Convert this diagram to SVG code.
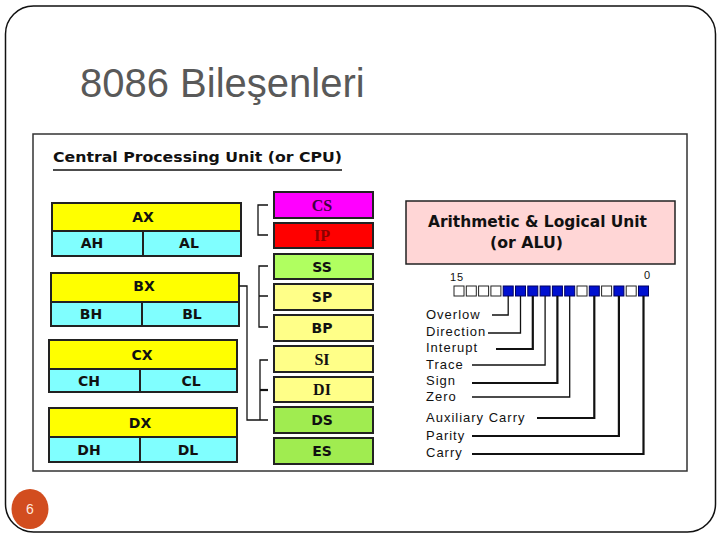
<svg xmlns="http://www.w3.org/2000/svg" width="720" height="540" viewBox="0 0 720 540">
<style>
.reg{font-family:"DejaVu Sans","Liberation Sans",sans-serif;font-weight:bold;font-size:14px;text-anchor:middle;fill:#111}
.seg{font-family:"DejaVu Sans","Liberation Sans",sans-serif;font-weight:bold;font-size:14px;text-anchor:middle;fill:#111}
.segs{font-family:"Liberation Serif",serif;font-weight:bold;font-size:16px;text-anchor:middle;fill:#111}
.y{fill:#FFFF00;stroke:#222;stroke-width:2}
.c{fill:#80FFFF;stroke:#222;stroke-width:2}
.box{stroke:#222;stroke-width:2}
.flag{font-family:"Liberation Sans",sans-serif;font-size:13px;letter-spacing:1px;fill:#111}
.ln{fill:none;stroke:#111;stroke-width:1.3}
.lnb{fill:none;stroke:#111;stroke-width:2.2}
.w{fill:#fff;stroke:#222;stroke-width:1}
.b{fill:#0010D0;stroke:#000060;stroke-width:1}
</style>
<rect x="5.5" y="6" width="710" height="526" rx="28" ry="28" fill="#fff" stroke="#111" stroke-width="1.5"/>
<text x="80" y="97" font-family="Liberation Sans,Arial,sans-serif" font-size="40" fill="#595959">8086 Bileşenleri</text>
<rect x="33" y="134" width="654" height="337" fill="#fff" stroke="#333" stroke-width="1.5"/>
<g id="cpu-title">
<text x="53" y="162" font-family="DejaVu Sans,sans-serif" font-weight="bold" font-size="14" fill="#111" textLength="289" lengthAdjust="spacingAndGlyphs">Central Processing Unit (or CPU)</text>
<line x1="53" y1="170" x2="342" y2="170" stroke="#111" stroke-width="1.3"/>
</g>
<g id="AX">
<rect class="y" x="52" y="203" width="189" height="28"/>
<rect class="c" x="52" y="231" width="91" height="25"/>
<rect class="c" x="143" y="231" width="98" height="25"/>
<text class="reg" x="143" y="222">AX</text>
<text class="reg" x="92" y="248">AH</text>
<text class="reg" x="189" y="248">AL</text>
</g>
<g id="BX">
<rect class="y" x="51" y="273" width="188" height="29"/>
<rect class="c" x="51" y="302" width="91" height="24"/>
<rect class="c" x="142" y="302" width="97" height="24"/>
<text class="reg" x="144" y="291">BX</text>
<text class="reg" x="91" y="319">BH</text>
<text class="reg" x="192" y="319">BL</text>
</g>
<g id="CX">
<rect class="y" x="49" y="340" width="188" height="29"/>
<rect class="c" x="49" y="369" width="91" height="23"/>
<rect class="c" x="140" y="369" width="97" height="23"/>
<text class="reg" x="142" y="360">CX</text>
<text class="reg" x="89" y="386">CH</text>
<text class="reg" x="191" y="386">CL</text>
</g>
<g id="DX">
<rect class="y" x="49" y="408" width="188" height="29"/>
<rect class="c" x="49" y="437" width="91" height="25"/>
<rect class="c" x="140" y="437" width="97" height="25"/>
<text class="reg" x="140" y="428">DX</text>
<text class="reg" x="89" y="455">DH</text>
<text class="reg" x="188" y="455">DL</text>
</g>
<g id="CS"><rect class="box" x="274" y="192" width="99" height="26" fill="#FF00FF"/><text class="segs" x="322" y="211" fill="#400040" style="fill:#400040">CS</text></g>
<g id="IP"><rect class="box" x="274" y="223" width="99" height="25" fill="#FF0000"/><text class="segs" x="322" y="241" style="fill:#8B0000">IP</text></g>
<g id="SS"><rect class="box" x="274" y="254" width="99" height="25" fill="#B0FF60"/><text class="seg" x="322" y="272">SS</text></g>
<g id="SP"><rect class="box" x="274" y="284" width="99" height="26" fill="#FFFF88"/><text class="seg" x="322" y="302">SP</text></g>
<g id="BP"><rect class="box" x="274" y="315" width="99" height="26" fill="#FFFF88"/><text class="seg" x="322" y="333">BP</text></g>
<g id="SI"><rect class="box" x="274" y="346" width="99" height="26" fill="#FFFF88"/><text class="segs" x="322" y="365">SI</text></g>
<g id="DI"><rect class="box" x="274" y="377" width="99" height="25" fill="#FFFF88"/><text class="segs" x="322" y="395">DI</text></g>
<g id="DS"><rect class="box" x="274" y="407" width="99" height="26" fill="#A0EC50"/><text class="seg" x="322" y="425">DS</text></g>
<g id="ES"><rect class="box" x="274" y="438" width="99" height="26" fill="#A0EC50"/><text class="seg" x="322" y="456">ES</text></g>
<g id="ALU">
<rect x="406" y="201" width="269" height="63" fill="#FFD6D6" stroke="#222" stroke-width="1.5"/>
<text x="428" y="227" font-family="DejaVu Sans,sans-serif" font-weight="bold" font-size="15" fill="#111" textLength="219" lengthAdjust="spacingAndGlyphs">Arithmetic &amp; Logical Unit</text>
<text x="490" y="248" font-family="DejaVu Sans,sans-serif" font-weight="bold" font-size="15" fill="#111" textLength="73" lengthAdjust="spacingAndGlyphs">(or ALU)</text>
</g>
<g id="flags-register">
<text x="450" y="281" font-family="Liberation Sans,sans-serif" font-size="11" letter-spacing="1" fill="#111">15</text>
<text x="644" y="279" font-family="Liberation Sans,sans-serif" font-size="11" fill="#111">0</text>
<rect class="w" x="454.0" y="286" width="10" height="10"/>
<rect class="w" x="466.3" y="286" width="10" height="10"/>
<rect class="w" x="478.6" y="286" width="10" height="10"/>
<rect class="w" x="490.9" y="286" width="10" height="10"/>
<rect class="b" x="503.2" y="286" width="10" height="10"/>
<rect class="b" x="515.5" y="286" width="10" height="10"/>
<rect class="b" x="527.8" y="286" width="10" height="10"/>
<rect class="b" x="540.1" y="286" width="10" height="10"/>
<rect class="b" x="552.4" y="286" width="10" height="10"/>
<rect class="b" x="564.7" y="286" width="10" height="10"/>
<rect class="w" x="577.0" y="286" width="10" height="10"/>
<rect class="b" x="589.3" y="286" width="10" height="10"/>
<rect class="w" x="601.6" y="286" width="10" height="10"/>
<rect class="b" x="613.9" y="286" width="10" height="10"/>
<rect class="w" x="626.2" y="286" width="10" height="10"/>
<rect class="b" x="638.5" y="286" width="10" height="10"/>
</g>
<g id="flag-labels">
<text class="flag" x="426" y="319">Overlow</text>
<text class="flag" x="426" y="336">Direction</text>
<text class="flag" x="426" y="352">Interupt</text>
<text class="flag" x="426" y="369">Trace</text>
<text class="flag" x="426" y="385">Sign</text>
<text class="flag" x="426" y="401">Zero</text>
<text class="flag" x="426" y="422">Auxiliary Carry</text>
<text class="flag" x="426" y="440">Parity</text>
<text class="flag" x="426" y="457">Carry</text>
</g>
<g id="connectors">
<path class="ln" d="M268,205 H258 V235 H268"/>
<path class="ln" d="M268,266 H259 V327 H268 M259,296 H268"/>
<path class="ln" d="M268,360 H260 V420 M260,390 H268"/>
<path class="lnb" d="M260,390 H268"/>
<path class="ln" d="M239,286 H247 V420 H268"/>
<path class="ln" d="M508.2,296 V315 H492"/>
<path class="ln" d="M520.5,296 V333 H488"/>
<path class="lnb" d="M532.8,296 V349 H496"/>
<path class="ln" d="M545.1,296 V365 H472"/>
<path class="lnb" d="M557.4,296 V383 H472"/>
<path class="ln" d="M569.7,296 V397 H472"/>
<path class="lnb" d="M594.3,296 V418 H537"/>
<path class="lnb" d="M618.9,296 V436 H472"/>
<path class="lnb" d="M643.5,296 V454 H472"/>
</g>
<g id="page-number">
<ellipse cx="30" cy="509" rx="18.5" ry="20" fill="#D24D1F"/>
<text x="30" y="514" font-family="Liberation Sans,sans-serif" font-size="14" fill="#FFE8DC" text-anchor="middle">6</text>
</g>
</svg>
